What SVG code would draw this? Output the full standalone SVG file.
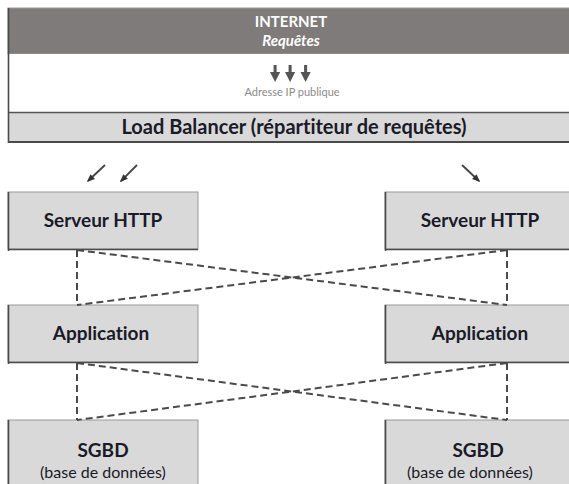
<svg xmlns="http://www.w3.org/2000/svg" width="569" height="484" viewBox="0 0 569 484">
<style>
text{font-variant-ligatures:none}
.box{fill:#d9d9d9;stroke:#9a9a9a;stroke-width:1}
.edge{fill:none;stroke:#4a4a4a;stroke-width:1.6}
.lbl{font-family:Lato,"Liberation Sans",sans-serif;font-weight:bold;font-size:19px;fill:#1a1a28;text-anchor:middle}
.sub{font-family:Lato,"Liberation Sans",sans-serif;font-size:16px;fill:#1a1a28;text-anchor:middle}
.dash{fill:none;stroke:#4a4a4a;stroke-width:2;stroke-dasharray:7 4}
.arr{fill:none;stroke:#444;stroke-width:1.8}
</style>
<defs>
<marker id="ah" viewBox="0 0 10 10" refX="8" refY="5" markerWidth="4.5" markerHeight="4.5" orient="auto">
<path d="M0,1 L10,5 L0,9 Z" fill="#333"/>
</marker>
</defs>

<g id="internet">
<rect x="8" y="8" width="570" height="46" fill="#7f7b7b" stroke="#9a9a9a" stroke-width="1"/>
<text x="291" y="27" font-family="Lato,'Liberation Sans',sans-serif" font-weight="bold" font-size="15" fill="#fff" text-anchor="middle">INTERNET</text>
<text x="291" y="46" font-family="Lato,'Liberation Sans',sans-serif" font-weight="bold" font-style="italic" font-size="15" fill="#fff" text-anchor="middle">Requêtes</text>
<rect x="8" y="54" width="570" height="58" fill="#fff"/>
<g fill="#555">
<rect x="273.6" y="65" width="3" height="8"/><path d="M270,72 L280.2,72 L275.1,82 Z"/>
<rect x="288.6" y="65" width="3" height="8"/><path d="M285,72 L295.2,72 L290.1,82 Z"/>
<rect x="304.1" y="65" width="3" height="8"/><path d="M300.5,72 L310.7,72 L305.6,82 Z"/>
</g>
<text x="292" y="96" font-family="Lato,'Liberation Sans',sans-serif" font-size="11" fill="#8a8a8a" text-anchor="middle">Adresse IP publique</text>
</g>

<g id="loadbalancer">
<rect x="8" y="112" width="570" height="30" fill="#d9d9d9"/>
<path d="M8,112.5 H578" stroke="#555" stroke-width="1.5"/>
<path d="M8,142 H578" stroke="#4a4a4a" stroke-width="1.8"/>
<text x="294" y="134" font-family="Lato,'Liberation Sans',sans-serif" font-weight="bold" font-size="20" fill="#1a1a28" text-anchor="middle">Load Balancer (répartiteur de requêtes)</text>
</g>
<path d="M8.5,8 V143" stroke="#4a4a4a" stroke-width="1.6"/>

<g id="http-left">
<rect class="box" x="8" y="192" width="190" height="57"/>
<path class="edge" d="M8.5,192 V251 M8,249.5 H198"/>
<text class="lbl" x="103" y="227">Serveur HTTP</text>
</g>
<g id="http-right">
<rect class="box" x="385" y="192" width="190" height="57"/>
<path class="edge" d="M385.5,192 V251 M385,249.5 H575"/>
<text class="lbl" x="480" y="227">Serveur HTTP</text>
</g>
<g id="app-left">
<rect class="box" x="8" y="305" width="190" height="57"/>
<path class="edge" d="M8.5,305 V364 M8,362.5 H198"/>
<text class="lbl" x="101" y="340">Application</text>
</g>
<g id="app-right">
<rect class="box" x="385" y="305" width="190" height="57"/>
<path class="edge" d="M385.5,305 V364 M385,362.5 H575"/>
<text class="lbl" x="480" y="340">Application</text>
</g>
<g id="sgbd-left">
<rect class="box" x="8" y="420" width="190" height="70"/>
<path class="edge" d="M8.5,420 V490"/>
<text class="lbl" x="103" y="457">SGBD</text>
<text class="sub" x="103" y="478">(base de données)</text>
</g>
<g id="sgbd-right">
<rect class="box" x="385" y="420" width="190" height="70"/>
<path class="edge" d="M385.5,420 V490"/>
<text class="lbl" x="478" y="457">SGBD</text>
<text class="sub" x="470" y="478">(base de données)</text>
</g>

<g id="connectors">
<path class="arr" d="M105,165 L88,181" marker-end="url(#ah)"/>
<path class="arr" d="M137,165 L121,181" marker-end="url(#ah)"/>
<path class="arr" d="M462,165 L479,181" marker-end="url(#ah)"/>
<path class="dash" d="M77,250 V305 M507,250 V305 M77,250 L507,305 M507,250 L77,305"/>
<path class="dash" d="M77,363 V420 M507,363 V420 M77,363 L507,420 M507,363 L77,420"/>
</g>
</svg>
